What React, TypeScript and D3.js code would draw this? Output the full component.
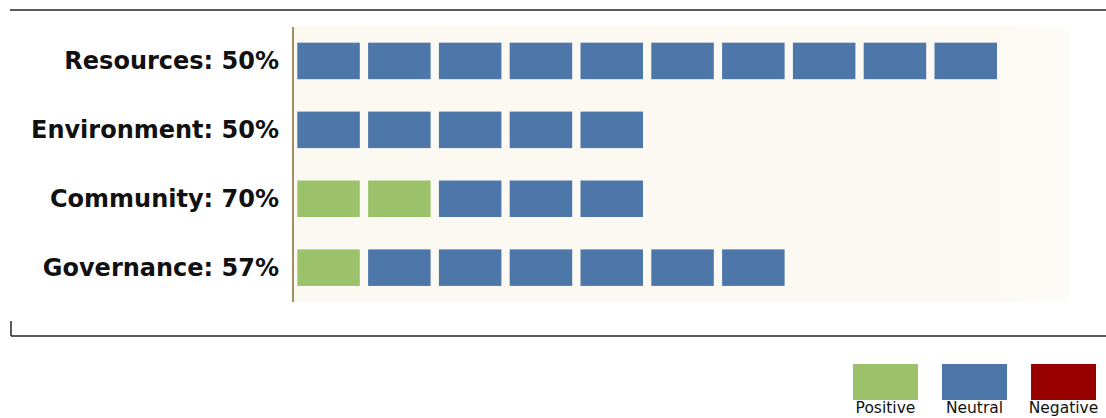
import React from "react";
import * as d3 from "d3";

const categories = ["Resources", "Environment", "Community", "Governance"];
const percentLabels = ["50%", "50%", "70%", "57%"];
const positiveCounts = [0, 0, 2, 1];
const neutralCounts = [10, 5, 3, 6];
const negativeCounts = [0, 0, 0, 0];
const legendLabels = ["Positive", "Neutral", "Negative"];

const COLORS = { Positive: "#9bc26a", Neutral: "#4d76a9", Negative: "#980000" };

const W = 1106;
const H = 418;

export default function App() {
  const maxUnits = 10;
  const x = d3.scaleLinear().domain([0, maxUnits]).range([297.3, 297.3 + 70.8 * maxUnits]);
  const y = d3.scaleBand<string>().domain(categories).range([42.7 - 16.2, 42.7 - 16.2 + 68.9 * 4]).paddingInner(0.47).paddingOuter(0.235);
  const blockW = 62.5;
  const legendX = d3.scaleBand<string>().domain(legendLabels).range([853, 1096]).paddingInner(0.27);

  const blocks: { key: string; cat: string; i: number; type: string }[] = [];
  categories.forEach((cat, r) => {
    const seq = [
      ...Array(positiveCounts[r]).fill("Positive"),
      ...Array(neutralCounts[r]).fill("Neutral"),
      ...Array(negativeCounts[r]).fill("Negative"),
    ];
    seq.forEach((t, i) => blocks.push({ key: `${cat}-${i}`, cat, i, type: t }));
  });

  return (
    <svg width={W} height={H} style={{ position: "absolute", left: 0, top: 0, background: "#fff" }}>
      <defs>
        <linearGradient id="panelFade" x1="0" x2="1" y1="0" y2="0">
          <stop offset="0.9" stopColor="#fcf9f3" />
          <stop offset="1" stopColor="#fefcf9" />
        </linearGradient>
      </defs>
      <line x1={10} x2={W} y1={10} y2={10} stroke="#5a5a5a" strokeWidth={2} />
      <rect x={294} y={26} width={776} height={276} fill="url(#panelFade)" />
      <line x1={293} x2={293} y1={27} y2={302} stroke="#a48e62" strokeWidth={2} />
      {categories.map((cat, r) => (
        <text
          key={cat}
          x={279}
          y={(y(cat) as number) + y.bandwidth() / 2}
          dy="0.33em"
          textAnchor="end"
          fontFamily="DejaVu Sans, Verdana, sans-serif"
          fontWeight="bold"
          fontSize={24}
          fill="#111"
        >
          {`${cat}: ${percentLabels[r]}`}
        </text>
      ))}
      {blocks.map((b) => (
        <rect
          key={b.key}
          x={x(b.i)}
          y={y(b.cat)}
          width={blockW}
          height={y.bandwidth()}
          fill={(COLORS as any)[b.type]}
        />
      ))}
      <line x1={11} x2={W} y1={336} y2={336} stroke="#222" strokeWidth={1.5} />
      <line x1={11} x2={11} y1={321} y2={336} stroke="#222" strokeWidth={1.5} />
      {legendLabels.map((l) => (
        <g key={l}>
          <rect x={legendX(l)} y={364} width={legendX.bandwidth()} height={36} fill={(COLORS as any)[l]} />
          <text
            x={(legendX(l) as number) + legendX.bandwidth() / 2}
            y={413}
            textAnchor="middle"
            fontFamily="DejaVu Sans, Verdana, sans-serif"
            fontSize={15.5}
            fill="#111"
          >
            {l}
          </text>
        </g>
      ))}
    </svg>
  );
}
